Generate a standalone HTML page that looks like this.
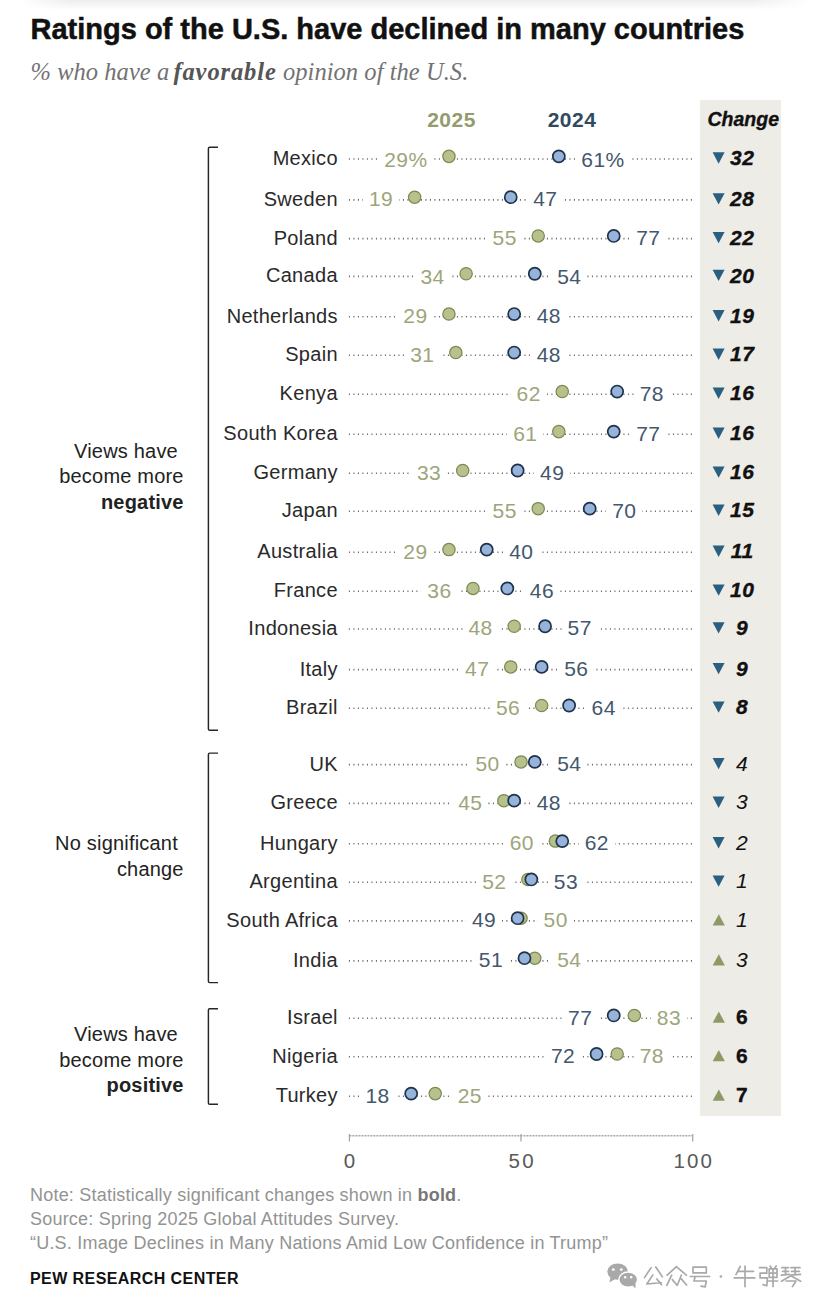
<!DOCTYPE html>
<html><head><meta charset="utf-8"><style>
html,body{margin:0;padding:0;background:#fff;}
body{width:828px;height:1309px;position:relative;overflow:hidden;font-family:"Liberation Sans", sans-serif;}
.t{position:absolute;white-space:nowrap;}
.lab{position:absolute;white-space:nowrap;font-size:21px;line-height:21px;letter-spacing:0.4px;background:#fff;padding:0 6px;margin:0 -6px;}
svg{position:absolute;left:0;top:0;}
</style></head><body>
<div style="position:absolute;left:20px;top:0;width:790px;height:10px;background:linear-gradient(#ededed,#ffffff);-webkit-mask-image:linear-gradient(to right,transparent,#000 50px,#000 730px,transparent)"></div>
<div style="position:absolute;left:700px;top:100px;width:81px;height:1016px;background:#edece7"></div>
<svg width="828" height="1309" viewBox="0 0 828 1309" style="z-index:0"><path d="M218 147.2 H209.7 Q208.4 147.2 208.4 148.5 V729.0 Q208.4 730.3 209.7 730.3 H218" fill="none" stroke="#262626" stroke-width="1.45"/><path d="M218 753.1 H209.7 Q208.4 753.1 208.4 754.4 V981.3 Q208.4 982.6 209.7 982.6 H218" fill="none" stroke="#262626" stroke-width="1.45"/><path d="M218 1008.7 H209.7 Q208.4 1008.7 208.4 1010.0 V1103.0 Q208.4 1104.3 209.7 1104.3 H218" fill="none" stroke="#262626" stroke-width="1.45"/><line x1="349.4" y1="1135.8" x2="692.7" y2="1135.8" stroke="#a8a8a8" stroke-width="1.5" stroke-dasharray="2 1"/><line x1="349.4" y1="1134" x2="349.4" y2="1141.5" stroke="#a8a8a8" stroke-width="1.3"/><line x1="521.0" y1="1134" x2="521.0" y2="1141.5" stroke="#a8a8a8" stroke-width="1.3"/><line x1="692.7" y1="1134" x2="692.7" y2="1141.5" stroke="#a8a8a8" stroke-width="1.3"/><line x1="348.9" y1="159.0" x2="693.5" y2="159.0" stroke="#6e6e6e" stroke-width="1.6" stroke-dasharray="1.1 3.4"/><path d="M712.6 152.3 H724.6 L718.6 163.7 Z" fill="#2b5f80"/><line x1="348.9" y1="199.9" x2="693.5" y2="199.9" stroke="#6e6e6e" stroke-width="1.6" stroke-dasharray="1.1 3.4"/><path d="M712.6 193.2 H724.6 L718.6 204.5 Z" fill="#2b5f80"/><line x1="348.9" y1="238.6" x2="693.5" y2="238.6" stroke="#6e6e6e" stroke-width="1.6" stroke-dasharray="1.1 3.4"/><path d="M712.6 231.9 H724.6 L718.6 243.2 Z" fill="#2b5f80"/><line x1="348.9" y1="276.4" x2="693.5" y2="276.4" stroke="#6e6e6e" stroke-width="1.6" stroke-dasharray="1.1 3.4"/><path d="M712.6 269.8 H724.6 L718.6 281.1 Z" fill="#2b5f80"/><line x1="348.9" y1="316.8" x2="693.5" y2="316.8" stroke="#6e6e6e" stroke-width="1.6" stroke-dasharray="1.1 3.4"/><path d="M712.6 310.1 H724.6 L718.6 321.4 Z" fill="#2b5f80"/><line x1="348.9" y1="355.2" x2="693.5" y2="355.2" stroke="#6e6e6e" stroke-width="1.6" stroke-dasharray="1.1 3.4"/><path d="M712.6 348.6 H724.6 L718.6 359.9 Z" fill="#2b5f80"/><line x1="348.9" y1="394.2" x2="693.5" y2="394.2" stroke="#6e6e6e" stroke-width="1.6" stroke-dasharray="1.1 3.4"/><path d="M712.6 387.6 H724.6 L718.6 398.9 Z" fill="#2b5f80"/><line x1="348.9" y1="434.3" x2="693.5" y2="434.3" stroke="#6e6e6e" stroke-width="1.6" stroke-dasharray="1.1 3.4"/><path d="M712.6 427.6 H724.6 L718.6 438.9 Z" fill="#2b5f80"/><line x1="348.9" y1="473.2" x2="693.5" y2="473.2" stroke="#6e6e6e" stroke-width="1.6" stroke-dasharray="1.1 3.4"/><path d="M712.6 466.5 H724.6 L718.6 477.8 Z" fill="#2b5f80"/><line x1="348.9" y1="511.3" x2="693.5" y2="511.3" stroke="#6e6e6e" stroke-width="1.6" stroke-dasharray="1.1 3.4"/><path d="M712.6 504.6 H724.6 L718.6 515.9 Z" fill="#2b5f80"/><line x1="348.9" y1="552.3" x2="693.5" y2="552.3" stroke="#6e6e6e" stroke-width="1.6" stroke-dasharray="1.1 3.4"/><path d="M712.6 545.6 H724.6 L718.6 556.9 Z" fill="#2b5f80"/><line x1="348.9" y1="591.2" x2="693.5" y2="591.2" stroke="#6e6e6e" stroke-width="1.6" stroke-dasharray="1.1 3.4"/><path d="M712.6 584.5 H724.6 L718.6 595.8 Z" fill="#2b5f80"/><line x1="348.9" y1="629.0" x2="693.5" y2="629.0" stroke="#6e6e6e" stroke-width="1.6" stroke-dasharray="1.1 3.4"/><path d="M712.6 622.2 H724.6 L718.6 633.5 Z" fill="#2b5f80"/><line x1="348.9" y1="669.6" x2="693.5" y2="669.6" stroke="#6e6e6e" stroke-width="1.6" stroke-dasharray="1.1 3.4"/><path d="M712.6 662.9 H724.6 L718.6 674.2 Z" fill="#2b5f80"/><line x1="348.9" y1="708.2" x2="693.5" y2="708.2" stroke="#6e6e6e" stroke-width="1.6" stroke-dasharray="1.1 3.4"/><path d="M712.6 701.5 H724.6 L718.6 712.8 Z" fill="#2b5f80"/><line x1="348.9" y1="764.6" x2="693.5" y2="764.6" stroke="#6e6e6e" stroke-width="1.6" stroke-dasharray="1.1 3.4"/><path d="M712.6 757.9 H724.6 L718.6 769.2 Z" fill="#2b5f80"/><line x1="348.9" y1="803.4" x2="693.5" y2="803.4" stroke="#6e6e6e" stroke-width="1.6" stroke-dasharray="1.1 3.4"/><path d="M712.6 796.6 H724.6 L718.6 807.9 Z" fill="#2b5f80"/><line x1="348.9" y1="843.8" x2="693.5" y2="843.8" stroke="#6e6e6e" stroke-width="1.6" stroke-dasharray="1.1 3.4"/><path d="M712.6 837.1 H724.6 L718.6 848.4 Z" fill="#2b5f80"/><line x1="348.9" y1="882.2" x2="693.5" y2="882.2" stroke="#6e6e6e" stroke-width="1.6" stroke-dasharray="1.1 3.4"/><path d="M712.6 875.5 H724.6 L718.6 886.8 Z" fill="#2b5f80"/><line x1="348.9" y1="920.9" x2="693.5" y2="920.9" stroke="#6e6e6e" stroke-width="1.6" stroke-dasharray="1.1 3.4"/><path d="M712.7 925.4 H724.9 L718.8 914.2 Z" fill="#8e9a66"/><line x1="348.9" y1="960.9" x2="693.5" y2="960.9" stroke="#6e6e6e" stroke-width="1.6" stroke-dasharray="1.1 3.4"/><path d="M712.7 965.4 H724.9 L718.8 954.2 Z" fill="#8e9a66"/><line x1="348.9" y1="1018.2" x2="693.5" y2="1018.2" stroke="#6e6e6e" stroke-width="1.6" stroke-dasharray="1.1 3.4"/><path d="M712.7 1022.7 H724.9 L718.8 1011.5 Z" fill="#8e9a66"/><line x1="348.9" y1="1056.7" x2="693.5" y2="1056.7" stroke="#6e6e6e" stroke-width="1.6" stroke-dasharray="1.1 3.4"/><path d="M712.7 1061.2 H724.9 L718.8 1050.0 Z" fill="#8e9a66"/><line x1="348.9" y1="1096.3" x2="693.5" y2="1096.3" stroke="#6e6e6e" stroke-width="1.6" stroke-dasharray="1.1 3.4"/><path d="M712.7 1100.8 H724.9 L718.8 1089.6 Z" fill="#8e9a66"/><path d="M651.1 1267.6 L644.5 1277.6 M655.8 1267.0 L662.4 1276.9 M652.9 1274.9 L646.8 1284.0 L661.1 1282.6 M656.9 1278.9 L661.4 1284.8 M676.4 1266.7 L667.1 1275.2 M676.4 1266.7 L686.4 1275.2 M671.7 1275.2 L666.8 1285.3 M672.4 1279.6 L676.8 1285.0 M681.3 1275.2 L677.3 1285.3 M681.3 1278.9 L686.6 1285.0 M693.0 1267.2 L706.3 1267.2 L706.3 1272.9 L693.0 1272.9 L693.0 1267.2 M690.3 1276.5 L709.6 1276.5 M695.3 1276.5 L693.9 1281.0 L706.3 1281.0 L705.2 1286.9 L701.0 1286.1 M740.2 1266.5 L736.0 1274.6 M738.4 1271.3 L753.5 1271.3 M734.2 1277.9 L754.7 1277.9 M745.0 1266.1 L745.0 1286.6 M759.5 1267.7 L766.8 1267.7 L766.8 1273.1 L760.1 1273.1 L760.1 1277.9 L767.4 1277.9 L766.8 1285.8 L763.1 1284.6 M770.1 1266.1 L771.6 1268.3 M776.2 1265.9 L774.7 1268.3 M769.2 1268.9 L777.0 1268.9 L777.0 1277.3 L769.2 1277.3 L769.2 1268.9 M769.2 1273.1 L777.0 1273.1 M768.6 1281.0 L777.6 1281.0 M773.0 1268.9 L773.0 1286.6 M781.9 1267.7 L788.5 1267.7 M782.5 1271.3 L788.5 1271.3 M781.3 1275.2 L789.1 1274.3 M785.5 1267.7 L785.5 1274.9 M790.9 1267.7 L800.0 1267.7 M791.5 1271.3 L799.4 1271.3 M790.3 1275.2 L800.6 1274.3 M795.1 1267.7 L795.1 1274.9 M790.9 1275.8 L781.5 1281.3 M790.9 1275.8 L800.6 1281.3 M786.1 1281.0 L796.0 1281.0 L792.4 1286.6" fill="none" stroke="#a9a9a9" stroke-width="1.7" stroke-linejoin="round" stroke-linecap="round"/><circle cx="720.9" cy="1276.5" r="1.3" fill="#a9a9a9"/><ellipse cx="617.6" cy="1271.6" rx="10.3" ry="8.2" fill="#a9a9a9"/><path d="M610.5 1277 L609.5 1282.5 L615 1279 Z" fill="#a9a9a9"/><ellipse cx="628.2" cy="1279.6" rx="9.4" ry="7.6" fill="#a9a9a9" stroke="#fff" stroke-width="1.4"/><path d="M632 1285 L635.5 1288.5 L635.5 1283 Z" fill="#a9a9a9"/><circle cx="613.3" cy="1269.6" r="1.4" fill="#fff"/><circle cx="621.3" cy="1269.6" r="1.4" fill="#fff"/><circle cx="625.2" cy="1277.2" r="1.2" fill="#fff"/><circle cx="631.2" cy="1277.2" r="1.2" fill="#fff"/></svg>
<div class="t" style="left:30.50px;top:14.65px;font-size:29px;line-height:29px;font-weight:700;color:#111;-webkit-text-stroke:0.5px #111;">Ratings of the U.S. have declined in many countries</div><div class="t" style="left:30.50px;top:59.68px;font-size:24.5px;line-height:24.5px;font-family:'Liberation Serif', serif;font-style:italic;color:#727272;letter-spacing:0.05px;">% who have a <b style="color:#555;letter-spacing:0.9px;margin-left:-2px">favorable</b> opinion of the U.S.</div><div class="t" style="left:443.30px;width:600px;text-align:center;top:109.79px;font-size:19.5px;line-height:19.5px;font-weight:700;font-style:italic;color:#111;-webkit-text-stroke:0.35px #111;">Change</div><div class="t" style="left:151.50px;width:600px;text-align:center;top:108.82px;font-size:21px;line-height:21px;font-weight:700;color:#939c6c;letter-spacing:0.5px;">2025</div><div class="t" style="left:272.00px;width:600px;text-align:center;top:108.82px;font-size:21px;line-height:21px;font-weight:700;color:#304a60;letter-spacing:0.5px;">2024</div><div class="t" style="right:644.30px;text-align:right;top:440.57px;font-size:20px;line-height:20px;color:#222;letter-spacing:0.2px;">Views have&nbsp;</div><div class="t" style="right:644.30px;text-align:right;top:466.22px;font-size:20px;line-height:20px;color:#222;letter-spacing:0.2px;">become more</div><div class="t" style="right:644.30px;text-align:right;top:491.87px;font-size:20px;line-height:20px;font-weight:700;color:#222;letter-spacing:0.2px;">negative</div><div class="t" style="right:644.30px;text-align:right;top:832.87px;font-size:20px;line-height:20px;color:#222;letter-spacing:0.2px;">No significant&nbsp;</div><div class="t" style="right:644.30px;text-align:right;top:858.52px;font-size:20px;line-height:20px;color:#222;letter-spacing:0.2px;">change</div><div class="t" style="right:644.30px;text-align:right;top:1024.07px;font-size:20px;line-height:20px;color:#222;letter-spacing:0.2px;">Views have&nbsp;</div><div class="t" style="right:644.30px;text-align:right;top:1049.72px;font-size:20px;line-height:20px;color:#222;letter-spacing:0.2px;">become more</div><div class="t" style="right:644.30px;text-align:right;top:1075.37px;font-size:20px;line-height:20px;font-weight:700;color:#222;letter-spacing:0.2px;">positive</div><div class="t" style="left:50.50px;width:600px;text-align:center;top:1150.65px;font-size:20.5px;line-height:20.5px;color:#5a5a5a;letter-spacing:2.2px;">0</div><div class="t" style="left:222.15px;width:600px;text-align:center;top:1150.65px;font-size:20.5px;line-height:20.5px;color:#5a5a5a;letter-spacing:2.2px;">50</div><div class="t" style="left:393.80px;width:600px;text-align:center;top:1150.65px;font-size:20.5px;line-height:20.5px;color:#5a5a5a;letter-spacing:2.2px;">100</div><div class="t" style="right:490.20px;text-align:right;top:148.02px;font-size:20px;line-height:20px;color:#2a2a2a;letter-spacing:0.3px;">Mexico</div><div class="lab" style="right:400.54px;top:149.07px;color:#9da57a">29%</div><div class="lab" style="left:581.31px;top:149.07px;color:#44576c">61%</div><div class="t" style="left:442.20px;width:600px;text-align:center;top:147.17px;font-size:21px;line-height:21px;font-weight:700;font-style:italic;color:#111;letter-spacing:0.5px;-webkit-text-stroke:0.35px #111;">32</div><div class="t" style="right:490.20px;text-align:right;top:188.87px;font-size:20px;line-height:20px;color:#2a2a2a;letter-spacing:0.3px;">Sweden</div><div class="lab" style="right:434.87px;top:188.32px;color:#9da57a">19</div><div class="lab" style="left:533.25px;top:188.32px;color:#44576c">47</div><div class="t" style="left:442.20px;width:600px;text-align:center;top:188.02px;font-size:21px;line-height:21px;font-weight:700;font-style:italic;color:#111;letter-spacing:0.5px;-webkit-text-stroke:0.35px #111;">28</div><div class="t" style="right:490.20px;text-align:right;top:227.62px;font-size:20px;line-height:20px;color:#2a2a2a;letter-spacing:0.3px;">Poland</div><div class="lab" style="right:311.29px;top:227.07px;color:#9da57a">55</div><div class="lab" style="left:636.24px;top:227.07px;color:#44576c">77</div><div class="t" style="left:442.20px;width:600px;text-align:center;top:226.77px;font-size:21px;line-height:21px;font-weight:700;font-style:italic;color:#111;letter-spacing:0.5px;-webkit-text-stroke:0.35px #111;">22</div><div class="t" style="right:490.20px;text-align:right;top:265.42px;font-size:20px;line-height:20px;color:#2a2a2a;letter-spacing:0.3px;">Canada</div><div class="lab" style="right:383.38px;top:266.27px;color:#9da57a">34</div><div class="lab" style="left:557.28px;top:266.27px;color:#44576c">54</div><div class="t" style="left:442.20px;width:600px;text-align:center;top:264.57px;font-size:21px;line-height:21px;font-weight:700;font-style:italic;color:#111;letter-spacing:0.5px;-webkit-text-stroke:0.35px #111;">20</div><div class="t" style="right:490.20px;text-align:right;top:305.72px;font-size:20px;line-height:20px;color:#2a2a2a;letter-spacing:0.3px;">Netherlands</div><div class="lab" style="right:400.54px;top:305.17px;color:#9da57a">29</div><div class="lab" style="left:536.68px;top:305.17px;color:#44576c">48</div><div class="t" style="left:442.20px;width:600px;text-align:center;top:304.87px;font-size:21px;line-height:21px;font-weight:700;font-style:italic;color:#111;letter-spacing:0.5px;-webkit-text-stroke:0.35px #111;">19</div><div class="t" style="right:490.20px;text-align:right;top:344.22px;font-size:20px;line-height:20px;color:#2a2a2a;letter-spacing:0.3px;">Spain</div><div class="lab" style="right:393.68px;top:343.67px;color:#9da57a">31</div><div class="lab" style="left:536.68px;top:343.67px;color:#44576c">48</div><div class="t" style="left:442.20px;width:600px;text-align:center;top:343.37px;font-size:21px;line-height:21px;font-weight:700;font-style:italic;color:#111;letter-spacing:0.5px;-webkit-text-stroke:0.35px #111;">17</div><div class="t" style="right:490.20px;text-align:right;top:383.22px;font-size:20px;line-height:20px;color:#2a2a2a;letter-spacing:0.3px;">Kenya</div><div class="lab" style="right:287.25px;top:382.67px;color:#9da57a">62</div><div class="lab" style="left:639.67px;top:382.67px;color:#44576c">78</div><div class="t" style="left:442.20px;width:600px;text-align:center;top:382.37px;font-size:21px;line-height:21px;font-weight:700;font-style:italic;color:#111;letter-spacing:0.5px;-webkit-text-stroke:0.35px #111;">16</div><div class="t" style="right:490.20px;text-align:right;top:423.27px;font-size:20px;line-height:20px;color:#2a2a2a;letter-spacing:0.3px;">South Korea</div><div class="lab" style="right:290.69px;top:422.72px;color:#9da57a">61</div><div class="lab" style="left:636.24px;top:422.72px;color:#44576c">77</div><div class="t" style="left:442.20px;width:600px;text-align:center;top:422.42px;font-size:21px;line-height:21px;font-weight:700;font-style:italic;color:#111;letter-spacing:0.5px;-webkit-text-stroke:0.35px #111;">16</div><div class="t" style="right:490.20px;text-align:right;top:462.17px;font-size:20px;line-height:20px;color:#2a2a2a;letter-spacing:0.3px;">Germany</div><div class="lab" style="right:386.81px;top:461.62px;color:#9da57a">33</div><div class="lab" style="left:540.12px;top:461.62px;color:#44576c">49</div><div class="t" style="left:442.20px;width:600px;text-align:center;top:461.32px;font-size:21px;line-height:21px;font-weight:700;font-style:italic;color:#111;letter-spacing:0.5px;-webkit-text-stroke:0.35px #111;">16</div><div class="t" style="right:490.20px;text-align:right;top:500.32px;font-size:20px;line-height:20px;color:#2a2a2a;letter-spacing:0.3px;">Japan</div><div class="lab" style="right:311.29px;top:499.77px;color:#9da57a">55</div><div class="lab" style="left:612.21px;top:499.77px;color:#44576c">70</div><div class="t" style="left:442.20px;width:600px;text-align:center;top:499.47px;font-size:21px;line-height:21px;font-weight:700;font-style:italic;color:#111;letter-spacing:0.5px;-webkit-text-stroke:0.35px #111;">15</div><div class="t" style="right:490.20px;text-align:right;top:541.27px;font-size:20px;line-height:20px;color:#2a2a2a;letter-spacing:0.3px;">Australia</div><div class="lab" style="right:400.54px;top:540.72px;color:#9da57a">29</div><div class="lab" style="left:509.22px;top:540.72px;color:#44576c">40</div><div class="t" style="left:442.20px;width:600px;text-align:center;top:540.42px;font-size:21px;line-height:21px;font-weight:700;font-style:italic;color:#111;letter-spacing:0.5px;-webkit-text-stroke:0.35px #111;">11</div><div class="t" style="right:490.20px;text-align:right;top:580.12px;font-size:20px;line-height:20px;color:#2a2a2a;letter-spacing:0.3px;">France</div><div class="lab" style="right:376.51px;top:579.57px;color:#9da57a">36</div><div class="lab" style="left:529.82px;top:579.57px;color:#44576c">46</div><div class="t" style="left:442.20px;width:600px;text-align:center;top:579.27px;font-size:21px;line-height:21px;font-weight:700;font-style:italic;color:#111;letter-spacing:0.5px;-webkit-text-stroke:0.35px #111;">10</div><div class="t" style="right:490.20px;text-align:right;top:617.92px;font-size:20px;line-height:20px;color:#2a2a2a;letter-spacing:0.3px;">Indonesia</div><div class="lab" style="right:335.32px;top:617.37px;color:#9da57a">48</div><div class="lab" style="left:567.58px;top:617.37px;color:#44576c">57</div><div class="t" style="left:442.20px;width:600px;text-align:center;top:617.07px;font-size:21px;line-height:21px;font-weight:700;font-style:italic;color:#111;letter-spacing:0.5px;-webkit-text-stroke:0.35px #111;">9</div><div class="t" style="right:490.20px;text-align:right;top:658.57px;font-size:20px;line-height:20px;color:#2a2a2a;letter-spacing:0.3px;">Italy</div><div class="lab" style="right:338.75px;top:658.02px;color:#9da57a">47</div><div class="lab" style="left:564.15px;top:658.02px;color:#44576c">56</div><div class="t" style="left:442.20px;width:600px;text-align:center;top:657.72px;font-size:21px;line-height:21px;font-weight:700;font-style:italic;color:#111;letter-spacing:0.5px;-webkit-text-stroke:0.35px #111;">9</div><div class="t" style="right:490.20px;text-align:right;top:697.17px;font-size:20px;line-height:20px;color:#2a2a2a;letter-spacing:0.3px;">Brazil</div><div class="lab" style="right:307.85px;top:696.62px;color:#9da57a">56</div><div class="lab" style="left:591.61px;top:696.62px;color:#44576c">64</div><div class="t" style="left:442.20px;width:600px;text-align:center;top:696.32px;font-size:21px;line-height:21px;font-weight:700;font-style:italic;color:#111;letter-spacing:0.5px;-webkit-text-stroke:0.35px #111;">8</div><div class="t" style="right:490.20px;text-align:right;top:753.57px;font-size:20px;line-height:20px;color:#2a2a2a;letter-spacing:0.3px;">UK</div><div class="lab" style="right:328.45px;top:753.02px;color:#9da57a">50</div><div class="lab" style="left:557.28px;top:753.02px;color:#44576c">54</div><div class="t" style="left:442.20px;width:600px;text-align:center;top:752.72px;font-size:21px;line-height:21px;font-style:italic;color:#111;letter-spacing:0.5px;">4</div><div class="t" style="right:490.20px;text-align:right;top:792.32px;font-size:20px;line-height:20px;color:#2a2a2a;letter-spacing:0.3px;">Greece</div><div class="lab" style="right:345.62px;top:791.77px;color:#9da57a">45</div><div class="lab" style="left:536.68px;top:791.77px;color:#44576c">48</div><div class="t" style="left:442.20px;width:600px;text-align:center;top:791.47px;font-size:21px;line-height:21px;font-style:italic;color:#111;letter-spacing:0.5px;">3</div><div class="t" style="right:490.20px;text-align:right;top:832.77px;font-size:20px;line-height:20px;color:#2a2a2a;letter-spacing:0.3px;">Hungary</div><div class="lab" style="right:294.12px;top:832.22px;color:#9da57a">60</div><div class="lab" style="left:584.75px;top:832.22px;color:#44576c">62</div><div class="t" style="left:442.20px;width:600px;text-align:center;top:831.92px;font-size:21px;line-height:21px;font-style:italic;color:#111;letter-spacing:0.5px;">2</div><div class="t" style="right:490.20px;text-align:right;top:871.12px;font-size:20px;line-height:20px;color:#2a2a2a;letter-spacing:0.3px;">Argentina</div><div class="lab" style="right:321.58px;top:870.57px;color:#9da57a">52</div><div class="lab" style="left:553.85px;top:870.57px;color:#44576c">53</div><div class="t" style="left:442.20px;width:600px;text-align:center;top:870.27px;font-size:21px;line-height:21px;font-style:italic;color:#111;letter-spacing:0.5px;">1</div><div class="t" style="right:490.20px;text-align:right;top:909.87px;font-size:20px;line-height:20px;color:#2a2a2a;letter-spacing:0.3px;">South Africa</div><div class="lab" style="right:331.88px;top:909.32px;color:#44576c">49</div><div class="lab" style="left:543.55px;top:909.32px;color:#9da57a">50</div><div class="t" style="left:442.20px;width:600px;text-align:center;top:909.02px;font-size:21px;line-height:21px;font-style:italic;color:#111;letter-spacing:0.5px;">1</div><div class="t" style="right:490.20px;text-align:right;top:949.87px;font-size:20px;line-height:20px;color:#2a2a2a;letter-spacing:0.3px;">India</div><div class="lab" style="right:325.02px;top:949.32px;color:#44576c">51</div><div class="lab" style="left:557.28px;top:949.32px;color:#9da57a">54</div><div class="t" style="left:442.20px;width:600px;text-align:center;top:949.02px;font-size:21px;line-height:21px;font-style:italic;color:#111;letter-spacing:0.5px;">3</div><div class="t" style="right:490.20px;text-align:right;top:1007.12px;font-size:20px;line-height:20px;color:#2a2a2a;letter-spacing:0.3px;">Israel</div><div class="lab" style="right:235.76px;top:1006.57px;color:#44576c">77</div><div class="lab" style="left:656.84px;top:1006.57px;color:#9da57a">83</div><div class="t" style="left:442.20px;width:600px;text-align:center;top:1006.27px;font-size:21px;line-height:21px;font-weight:700;color:#111;letter-spacing:0.5px;-webkit-text-stroke:0.35px #111;">6</div><div class="t" style="right:490.20px;text-align:right;top:1045.67px;font-size:20px;line-height:20px;color:#2a2a2a;letter-spacing:0.3px;">Nigeria</div><div class="lab" style="right:252.92px;top:1045.12px;color:#44576c">72</div><div class="lab" style="left:639.67px;top:1045.12px;color:#9da57a">78</div><div class="t" style="left:442.20px;width:600px;text-align:center;top:1044.82px;font-size:21px;line-height:21px;font-weight:700;color:#111;letter-spacing:0.5px;-webkit-text-stroke:0.35px #111;">6</div><div class="t" style="right:490.20px;text-align:right;top:1085.27px;font-size:20px;line-height:20px;color:#2a2a2a;letter-spacing:0.3px;">Turkey</div><div class="lab" style="right:438.31px;top:1084.72px;color:#44576c">18</div><div class="lab" style="left:457.72px;top:1084.72px;color:#9da57a">25</div><div class="t" style="left:442.20px;width:600px;text-align:center;top:1084.42px;font-size:21px;line-height:21px;font-weight:700;color:#111;letter-spacing:0.5px;-webkit-text-stroke:0.35px #111;">7</div><div class="t" style="left:30.00px;top:1186.36px;font-size:18px;line-height:18px;color:#939393;letter-spacing:0.21px;">Note: Statistically significant changes shown in <b style="color:#777">bold</b>.</div><div class="t" style="left:30.00px;top:1210.16px;font-size:18px;line-height:18px;color:#939393;letter-spacing:0.21px;">Source: Spring 2025 Global Attitudes Survey.</div><div class="t" style="left:30.00px;top:1234.36px;font-size:18px;line-height:18px;color:#939393;letter-spacing:0.21px;">“U.S. Image Declines in Many Nations Amid Low Confidence in Trump”</div><div class="t" style="left:30.00px;top:1271.06px;font-size:16px;line-height:16px;font-weight:700;color:#111;letter-spacing:0.42px;">PEW RESEARCH CENTER</div>
<svg width="828" height="1309" viewBox="0 0 828 1309" style="z-index:2"><circle cx="448.96" cy="156.35" r="6.15" fill="#b7c18d" stroke="#7d8a52" stroke-width="1.25"/><circle cx="558.81" cy="156.35" r="6.05" fill="#96b3db" stroke="#1f3249" stroke-width="1.7"/><circle cx="414.63" cy="197.20" r="6.15" fill="#b7c18d" stroke="#7d8a52" stroke-width="1.25"/><circle cx="510.75" cy="197.20" r="6.05" fill="#96b3db" stroke="#1f3249" stroke-width="1.7"/><circle cx="538.21" cy="235.95" r="6.15" fill="#b7c18d" stroke="#7d8a52" stroke-width="1.25"/><circle cx="613.74" cy="235.95" r="6.05" fill="#96b3db" stroke="#1f3249" stroke-width="1.7"/><circle cx="466.12" cy="273.75" r="6.15" fill="#b7c18d" stroke="#7d8a52" stroke-width="1.25"/><circle cx="534.78" cy="273.75" r="6.05" fill="#96b3db" stroke="#1f3249" stroke-width="1.7"/><circle cx="448.96" cy="314.05" r="6.15" fill="#b7c18d" stroke="#7d8a52" stroke-width="1.25"/><circle cx="514.18" cy="314.05" r="6.05" fill="#96b3db" stroke="#1f3249" stroke-width="1.7"/><circle cx="455.82" cy="352.55" r="6.15" fill="#b7c18d" stroke="#7d8a52" stroke-width="1.25"/><circle cx="514.18" cy="352.55" r="6.05" fill="#96b3db" stroke="#1f3249" stroke-width="1.7"/><circle cx="562.25" cy="391.55" r="6.15" fill="#b7c18d" stroke="#7d8a52" stroke-width="1.25"/><circle cx="617.17" cy="391.55" r="6.05" fill="#96b3db" stroke="#1f3249" stroke-width="1.7"/><circle cx="558.81" cy="431.60" r="6.15" fill="#b7c18d" stroke="#7d8a52" stroke-width="1.25"/><circle cx="613.74" cy="431.60" r="6.05" fill="#96b3db" stroke="#1f3249" stroke-width="1.7"/><circle cx="462.69" cy="470.50" r="6.15" fill="#b7c18d" stroke="#7d8a52" stroke-width="1.25"/><circle cx="517.62" cy="470.50" r="6.05" fill="#96b3db" stroke="#1f3249" stroke-width="1.7"/><circle cx="538.21" cy="508.65" r="6.15" fill="#b7c18d" stroke="#7d8a52" stroke-width="1.25"/><circle cx="589.71" cy="508.65" r="6.05" fill="#96b3db" stroke="#1f3249" stroke-width="1.7"/><circle cx="448.96" cy="549.60" r="6.15" fill="#b7c18d" stroke="#7d8a52" stroke-width="1.25"/><circle cx="486.72" cy="549.60" r="6.05" fill="#96b3db" stroke="#1f3249" stroke-width="1.7"/><circle cx="472.99" cy="588.45" r="6.15" fill="#b7c18d" stroke="#7d8a52" stroke-width="1.25"/><circle cx="507.32" cy="588.45" r="6.05" fill="#96b3db" stroke="#1f3249" stroke-width="1.7"/><circle cx="514.18" cy="626.25" r="6.15" fill="#b7c18d" stroke="#7d8a52" stroke-width="1.25"/><circle cx="545.08" cy="626.25" r="6.05" fill="#96b3db" stroke="#1f3249" stroke-width="1.7"/><circle cx="510.75" cy="666.90" r="6.15" fill="#b7c18d" stroke="#7d8a52" stroke-width="1.25"/><circle cx="541.65" cy="666.90" r="6.05" fill="#96b3db" stroke="#1f3249" stroke-width="1.7"/><circle cx="541.65" cy="705.50" r="6.15" fill="#b7c18d" stroke="#7d8a52" stroke-width="1.25"/><circle cx="569.11" cy="705.50" r="6.05" fill="#96b3db" stroke="#1f3249" stroke-width="1.7"/><circle cx="521.05" cy="761.90" r="6.15" fill="#b7c18d" stroke="#7d8a52" stroke-width="1.25"/><circle cx="534.78" cy="761.90" r="6.05" fill="#96b3db" stroke="#1f3249" stroke-width="1.7"/><circle cx="503.88" cy="800.65" r="6.15" fill="#b7c18d" stroke="#7d8a52" stroke-width="1.25"/><circle cx="514.18" cy="800.65" r="6.05" fill="#96b3db" stroke="#1f3249" stroke-width="1.7"/><circle cx="555.38" cy="841.10" r="6.15" fill="#b7c18d" stroke="#7d8a52" stroke-width="1.25"/><circle cx="562.25" cy="841.10" r="6.05" fill="#96b3db" stroke="#1f3249" stroke-width="1.7"/><circle cx="527.92" cy="879.45" r="6.15" fill="#b7c18d" stroke="#7d8a52" stroke-width="1.25"/><circle cx="531.35" cy="879.45" r="6.05" fill="#96b3db" stroke="#1f3249" stroke-width="1.7"/><circle cx="521.05" cy="918.20" r="6.15" fill="#b7c18d" stroke="#7d8a52" stroke-width="1.25"/><circle cx="517.62" cy="918.20" r="6.05" fill="#96b3db" stroke="#1f3249" stroke-width="1.7"/><circle cx="534.78" cy="958.20" r="6.15" fill="#b7c18d" stroke="#7d8a52" stroke-width="1.25"/><circle cx="524.48" cy="958.20" r="6.05" fill="#96b3db" stroke="#1f3249" stroke-width="1.7"/><circle cx="634.34" cy="1015.45" r="6.15" fill="#b7c18d" stroke="#7d8a52" stroke-width="1.25"/><circle cx="613.74" cy="1015.45" r="6.05" fill="#96b3db" stroke="#1f3249" stroke-width="1.7"/><circle cx="617.17" cy="1054.00" r="6.15" fill="#b7c18d" stroke="#7d8a52" stroke-width="1.25"/><circle cx="596.58" cy="1054.00" r="6.05" fill="#96b3db" stroke="#1f3249" stroke-width="1.7"/><circle cx="435.22" cy="1093.60" r="6.15" fill="#b7c18d" stroke="#7d8a52" stroke-width="1.25"/><circle cx="411.19" cy="1093.60" r="6.05" fill="#96b3db" stroke="#1f3249" stroke-width="1.7"/></svg>
</body></html>
